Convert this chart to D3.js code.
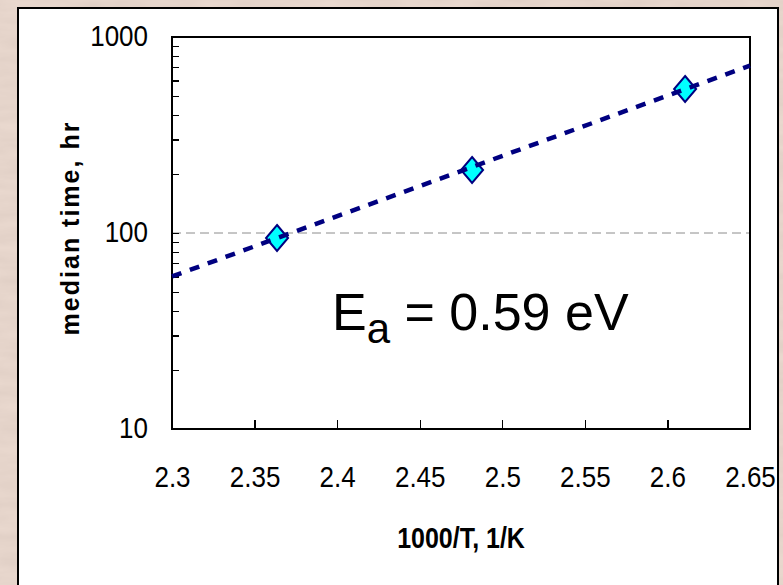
<!DOCTYPE html>
<html lang="en">
<head>
    <meta charset="UTF-8">
    <title>median time vs 1000/T</title>
    <script src="https://d3js.org/d3.v7.min.js"></script>
    <style>
        body { margin: 0; }
        text { font-family: Arial, "Liberation Sans", sans-serif; }
        .axis path { display: none; }
        .axis line { stroke: #000; stroke-width: 1.2; shape-rendering: crispEdges; }
    </style>
</head>
<body>
    <script>
        // data
        const invT = [2.3636, 2.4817, 2.6107];
        const medianHr = [94.3, 209.6, 543];
        const fitX = [2.3, 2.65];
        const fitY = [60, 715];
        const xTicks = [2.3, 2.35, 2.4, 2.45, 2.5, 2.55, 2.6, 2.65];
        const yTicks = [10, 20, 30, 40, 50, 60, 70, 80, 90,
                        100, 200, 300, 400, 500, 600, 700, 800, 900, 1000];
        const yLabels = [10, 100, 1000];
        const gridAt = [100];

        const width = 783, height = 585;
        const margin = { top: 37, right: 33, bottom: 156, left: 172 };
        const innerW = width - margin.left - margin.right;
        const innerH = height - margin.top - margin.bottom;
        const stretch = 1.17;

        const svg = d3.select("body").append("svg")
            .attr("width", width)
            .attr("height", height);

        // parchment background
        const defs = svg.append("defs");
        const filt = defs.append("filter").attr("id", "paper");
        filt.append("feTurbulence")
            .attr("type", "fractalNoise")
            .attr("baseFrequency", "0.02 0.09")
            .attr("numOctaves", 3)
            .attr("seed", 4);
        filt.append("feColorMatrix")
            .attr("values", "0 0 0 0 0.55  0 0 0 0 0.45  0 0 0 0 0.40  0 0 0 0.35 -0.05");
        svg.append("rect").attr("width", width).attr("height", height).attr("fill", "#ead9cf");
        svg.append("rect").attr("width", width).attr("height", height).attr("filter", "url(#paper)");

        // white panel
        svg.append("rect")
            .attr("x", 18).attr("y", 8)
            .attr("width", 760).attr("height", 600)
            .attr("fill", "#fff")
            .attr("stroke", "#000")
            .attr("stroke-width", 2);

        const g = svg.append("g")
            .attr("transform", `translate(${margin.left},${margin.top})`);

        const x = d3.scaleLinear().domain([2.3, 2.65]).range([0, innerW]);
        const y = d3.scaleLog().domain([10, 1000]).range([innerH, 0]);

        // grid line at 100
        g.selectAll(".grid")
            .data(gridAt)
            .enter().append("line")
            .attr("x1", 0).attr("x2", innerW)
            .attr("y1", d => y(d)).attr("y2", d => y(d))
            .attr("stroke", "#8c8c8c")
            .attr("stroke-width", 1)
            .attr("stroke-dasharray", "9,5");

        // x axis
        const xAxis = g.append("g")
            .attr("class", "axis")
            .attr("transform", `translate(0,${innerH})`)
            .call(d3.axisBottom(x).tickValues(xTicks).tickSize(-9).tickFormat(d3.format("")));
        xAxis.selectAll("text")
            .attr("y", null).attr("dy", null)
            .attr("transform", `translate(0,58) scale(1,${stretch})`)
            .attr("font-size", 26)
            .attr("font-family", "Arial, 'Liberation Sans', sans-serif")
            .attr("fill", "#000");

        // y axis
        const yAxis = g.append("g")
            .attr("class", "axis")
            .call(d3.axisLeft(y).tickValues(yTicks).tickSize(-7)
                .tickFormat(d => yLabels.includes(d) ? d : ""));
        yAxis.selectAll("text")
            .attr("x", null).attr("dy", null)
            .attr("transform", `translate(-24,8) scale(1,${stretch})`)
            .attr("font-size", 26)
            .attr("font-family", "Arial, 'Liberation Sans', sans-serif")
            .attr("fill", "#000");

        // plot frame
        g.append("rect")
            .attr("width", innerW).attr("height", innerH)
            .attr("fill", "none")
            .attr("stroke", "#000")
            .attr("stroke-width", 2);

        // markers
        const pts = invT.map((v, i) => ({ x: v, y: medianHr[i] }));
        g.selectAll(".pt")
            .data(pts)
            .enter().append("path")
            .attr("d", "M0,-13L11,0L0,13L-11,0Z")
            .attr("transform", d => `translate(${x(d.x)},${y(d.y)})`)
            .attr("fill", "#00ffff")
            .attr("stroke", "#000080")
            .attr("stroke-width", 2);

        // trend line
        const fit = fitX.map((v, i) => ({ x: v, y: fitY[i] }));
        g.append("path")
            .datum(fit)
            .attr("d", d3.line().x(d => x(d.x)).y(d => y(d.y)))
            .attr("fill", "none")
            .attr("stroke", "#000080")
            .attr("stroke-width", 4.5)
            .attr("stroke-dasharray", "10,9");

        // axis titles
        svg.append("text")
            .attr("transform", `translate(461,548) scale(1,${stretch})`)
            .attr("text-anchor", "middle")
            .attr("font-size", 25)
            .attr("font-weight", "bold")
            .text("1000/T, 1/K");

        svg.append("text")
            .attr("transform", "translate(79,228) rotate(-90)")
            .attr("text-anchor", "middle")
            .attr("font-size", 25)
            .attr("font-weight", "bold")
            .attr("letter-spacing", 2)
            .text("median time, hr");

        // annotation
        const ann = svg.append("text")
            .attr("x", 332).attr("y", 330)
            .attr("font-size", 52);
        ann.append("tspan").text("E");
        ann.append("tspan").attr("font-size", 42).attr("dy", 13).text("a");
        ann.append("tspan").attr("dy", -13).text(" = 0.59 eV");
    </script>
</body>
</html>
